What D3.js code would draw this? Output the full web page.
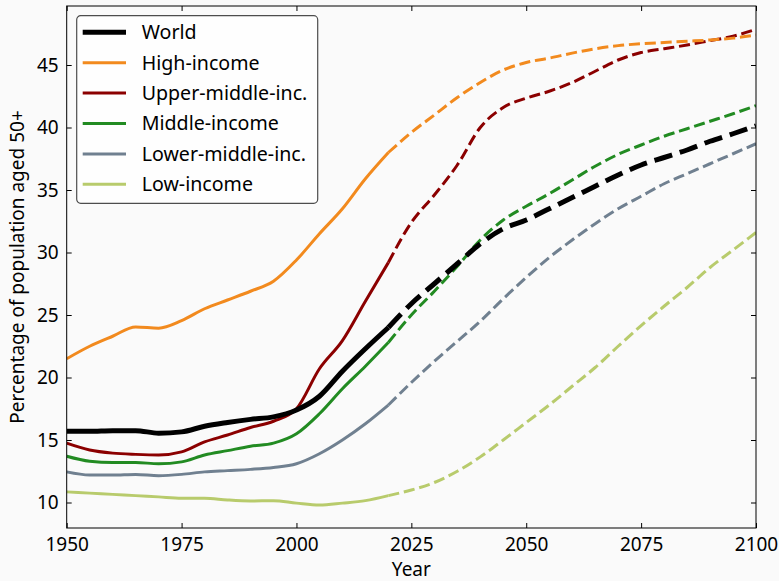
<!DOCTYPE html>
<html>
<head>
<meta charset="utf-8">
<script src="https://cdn.jsdelivr.net/npm/d3@7/dist/d3.min.js"></script>
<style>
  html, body { margin: 0; padding: 0; background: #fafafa; }
  svg { display: block; font-family: "Noto Sans", "Open Sans", sans-serif; }
</style>
</head>
<body>
<svg id="chart" width="779" height="581"></svg>
<script>
// Share of population aged 50+ by World Bank income group, 1950–2100
// (estimates up to 2020, projections afterwards)
const years = d3.range(1950, 2101, 5);
const projectionStart = 2020;

const world = [15.7, 15.7, 15.75, 15.75, 15.55, 15.65, 16.1, 16.4, 16.65, 16.85, 17.4,
  18.5, 20.5, 22.3, 24.0, 25.9, 27.5, 29.1, 30.7, 31.9, 32.6, 33.5, 34.4, 35.3, 36.2,
  37.0, 37.6, 38.2, 38.9, 39.5, 40.15];
const highIncome = [21.5, 22.5, 23.3, 24.05, 23.95, 24.55, 25.5, 26.2, 26.9, 27.7, 29.4,
  31.5, 33.5, 35.9, 38.0, 39.6, 41.0, 42.4, 43.6, 44.6, 45.2, 45.55, 45.95, 46.3, 46.55,
  46.7, 46.8, 46.9, 47.0, 47.15, 47.4];
const upperMiddle = [14.75, 14.2, 13.95, 13.85, 13.8, 14.05, 14.85, 15.4, 16.0, 16.5, 17.5,
  20.7, 22.95, 26.1, 29.2, 32.4, 34.6, 37.0, 40.0, 41.6, 42.35, 42.9, 43.6, 44.5, 45.4,
  46.0, 46.3, 46.6, 46.95, 47.3, 47.85];
const middleIncome = [13.7, 13.3, 13.2, 13.2, 13.1, 13.25, 13.8, 14.15, 14.5, 14.75, 15.5,
  17.1, 19.1, 20.9, 22.8, 25.0, 26.9, 28.9, 31.0, 32.6, 33.7, 34.7, 35.8, 36.9, 37.85,
  38.6, 39.3, 39.9, 40.5, 41.1, 41.75];
const lowerMiddle = [12.45, 12.2, 12.2, 12.25, 12.15, 12.25, 12.45, 12.55, 12.65, 12.8, 13.1,
  13.9, 15.0, 16.3, 17.8, 19.6, 21.3, 22.9, 24.5, 26.3, 28.0, 29.6, 31.0, 32.3, 33.5,
  34.5, 35.5, 36.3, 37.1, 37.9, 38.7];
const lowIncome = [10.85, 10.75, 10.65, 10.55, 10.45, 10.35, 10.35, 10.2, 10.12, 10.15, 9.95,
  9.8, 9.95, 10.15, 10.55, 11.0, 11.6, 12.5, 13.65, 15.0, 16.4, 17.8, 19.3, 20.8, 22.5,
  24.15, 25.7, 27.2, 28.8, 30.2, 31.6];

const seriesNames = ["World", "High-income", "Upper-middle-inc.", "Middle-income",
  "Lower-middle-inc.", "Low-income"];
const seriesValues = [world, highIncome, upperMiddle, middleIncome, lowerMiddle, lowIncome];
const seriesColors = ["#000000", "#f28a1e", "#8b0000", "#228b22", "#708090", "#b8cb6c"];
const seriesWidths = [5, 3, 3, 3, 3, 3];

const xTicks = [1950, 1975, 2000, 2025, 2050, 2075, 2100];
const yTicks = [10, 15, 20, 25, 30, 35, 40, 45];

const W = 779, H = 581;
const margin = { top: 6, right: 23, bottom: 53, left: 66.7 };
const iw = W - margin.left - margin.right;
const ih = H - margin.top - margin.bottom;

const svg = d3.select("#chart");
svg.append("rect").attr("width", W).attr("height", H).attr("fill", "#fafafa");

const g = svg.append("g").attr("transform", `translate(${margin.left},${margin.top})`);

const x = d3.scaleLinear().domain([1950, 2100]).range([0, iw]);
const y = d3.scaleLinear().domain([7.96, 49.72]).range([ih, 0]);

g.append("defs").append("clipPath").attr("id", "plot-clip")
  .append("rect").attr("width", iw).attr("height", ih);

// Lines: solid for estimates, dashed for projections
const line = d3.line()
  .x(d => x(d.year))
  .y(d => y(d.value))
  .curve(d3.curveMonotoneX);

const plot = g.append("g").attr("clip-path", "url(#plot-clip)");
// draw in reverse order so World sits on top
for (let i = seriesNames.length - 1; i >= 0; i--) {
  const pts = years.map((yr, k) => ({ year: yr, value: seriesValues[i][k] }));
  const past = pts.filter(d => d.year <= projectionStart);
  const future = pts.filter(d => d.year >= projectionStart);
  const lw = seriesWidths[i];
  plot.append("path").datum(past)
    .attr("d", line)
    .attr("fill", "none")
    .attr("stroke", seriesColors[i])
    .attr("stroke-width", lw);
  plot.append("path").datum(future)
    .attr("d", line)
    .attr("fill", "none")
    .attr("stroke", seriesColors[i])
    .attr("stroke-width", lw)
    .attr("stroke-dasharray", `${3.7 * lw},${1.6 * lw}`);
}

// Axes with inward ticks on all four sides
const tickFont = "19px";
const axB = g.append("g").attr("transform", `translate(0,${ih})`)
  .call(d3.axisBottom(x).tickValues(xTicks).tickFormat(d3.format("d")).tickSizeInner(-5).tickSizeOuter(0).tickPadding(10));
const axT = g.append("g")
  .call(d3.axisTop(x).tickValues(xTicks).tickFormat("").tickSizeInner(-5).tickSizeOuter(0));
const axL = g.append("g")
  .call(d3.axisLeft(y).tickValues(yTicks).tickFormat(d3.format("d")).tickSizeInner(-5).tickSizeOuter(0).tickPadding(8));
const axR = g.append("g").attr("transform", `translate(${iw},0)`)
  .call(d3.axisRight(y).tickValues(yTicks).tickFormat("").tickSizeInner(-5).tickSizeOuter(0));

[axB, axT, axL, axR].forEach(a => {
  a.select(".domain").remove();
  a.selectAll(".tick line").attr("stroke", "#000").attr("stroke-width", 1);
  a.selectAll(".tick text").attr("fill", "#000").style("font-size", tickFont)
    .style("font-family", "\"Noto Sans\", sans-serif");
});

g.append("rect").attr("width", iw).attr("height", ih)
  .attr("fill", "none").attr("stroke", "#000").attr("stroke-width", 1);

// Axis titles
svg.append("text")
  .attr("x", margin.left + iw / 2).attr("y", 576)
  .attr("text-anchor", "middle").style("font-size", "19px").attr("fill", "#000")
  .text("Year");
svg.append("text")
  .attr("transform", `translate(24,${margin.top + ih / 2}) rotate(-90)`)
  .attr("text-anchor", "middle").style("font-size", "19px").attr("fill", "#000")
  .text("Percentage of population aged 50+");

// Legend
const legend = svg.append("g").attr("transform", "translate(76.7,15.7)");
legend.append("rect")
  .attr("width", 241).attr("height", 187.6).attr("rx", 4)
  .attr("fill", "#ffffff").attr("fill-opacity", 0.8)
  .attr("stroke", "#4d4d4d").attr("stroke-width", 1.2);
seriesNames.forEach((name, i) => {
  const row = legend.append("g").attr("transform", `translate(0,${16.6 + i * 30.4})`);
  row.append("line").attr("x1", 6).attr("x2", 49.3).attr("y1", 0).attr("y2", 0)
    .attr("stroke", seriesColors[i]).attr("stroke-width", seriesWidths[i]);
  row.append("text").attr("x", 65).attr("y", 0).attr("dy", "0.35em")
    .style("font-size", "19.6px").attr("fill", "#000").text(name);
});
</script>
</body>
</html>
